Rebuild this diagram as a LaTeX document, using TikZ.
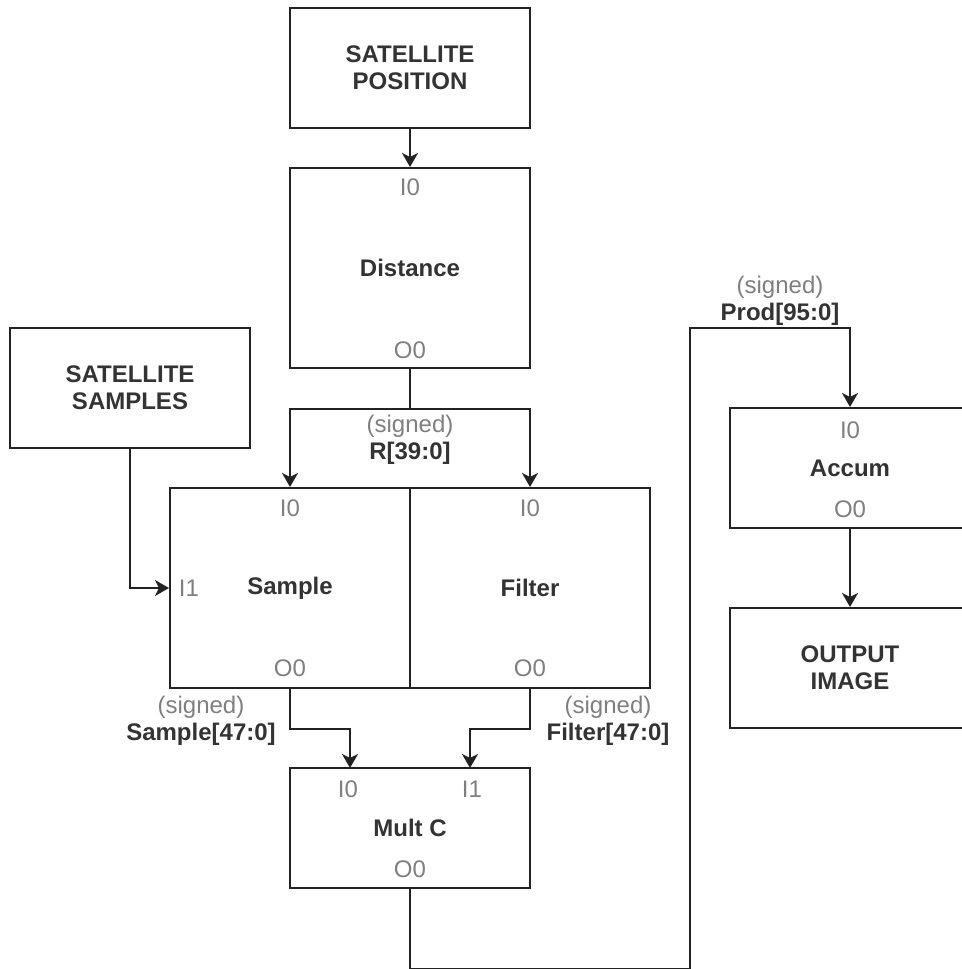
\documentclass[tikz,border=0pt]{standalone}
\usepackage{fontspec}
\setmainfont{Liberation Sans}
\usetikzlibrary{arrows.meta}
\definecolor{ink}{HTML}{333333}
\definecolor{edge}{HTML}{222222}
\definecolor{port}{HTML}{7F7F7F}
\begin{document}
\begin{tikzpicture}[x=0.5pt, y=-0.5pt, font=\fontsize{12}{13.5}\selectfont,
          blk/.style={draw=edge, line width=1pt, minimum width=120pt, inner sep=0pt, align=center, text=ink, font=\fontsize{12}{13.5}\selectfont\bfseries},
          tall/.style={blk, minimum height=100pt},
          flat/.style={blk, minimum height=60pt},
          pin/.style={text=port, inner sep=1pt},
          sig/.style={align=center, inner sep=1pt, text=ink},
          wire/.style={-{Stealth[length=7pt, width=8pt, inset=2pt]}, line width=1pt, draw=edge}]
        \useasboundingbox (0,0) rectangle (962,969);
        % blocks
        \node[flat] (satpos) at (410,68)  {SATELLITE\\POSITION};
        \node[tall] (dist)   at (410,268) {Distance};
        \node[flat] (satsmp) at (130,388) {SATELLITE\\SAMPLES};
        \node[tall] (sample) at (290,588) {Sample};
        \node[tall] (filter) at (530,588) {Filter};
        \node[flat] (multc)  at (410,828) {Mult C};
        \node[flat] (accum)  at (850,468) {Accum};
        \node[flat] (outimg) at (850,668) {OUTPUT\\IMAGE};
        % ports
        \node[pin] (dist-i0)   at (410,187) {I0};
        \node[pin] (dist-o0)   at (410,350) {O0};
        \node[pin] (sample-i0) at (290,508) {I0};
        \node[pin] (sample-i1) at (189,588) {I1};
        \node[pin] (sample-o0) at (290,668) {O0};
        \node[pin] (filter-i0) at (530,508) {I0};
        \node[pin] (filter-o0) at (530,668) {O0};
        \node[pin] (multc-i0)  at (348,789) {I0};
        \node[pin] (multc-i1)  at (472,789) {I1};
        \node[pin] (multc-o0)  at (410,869) {O0};
        \node[pin] (accum-i0)  at (850,430) {I0};
        \node[pin] (accum-o0)  at (850,509) {O0};
        % signal names
        \node[sig] (rsig) at (410,440) {\textcolor{port}{(signed)}\\\textbf{R[39:0]}};
        \node[sig] (ssig) at (201,721) {\textcolor{port}{(signed)}\\\textbf{Sample[47:0]}};
        \node[sig] (fsig) at (608,721) {\textcolor{port}{(signed)}\\\textbf{Filter[47:0]}};
        \node[sig] (psig) at (780,301) {\textcolor{port}{(signed)}\\\textbf{Prod[95:0]}};
        % wires
        \coordinate (mi0) at (350,768);
        \coordinate (mi1) at (470,768);
        \coordinate (loop) at (690,328);
        \draw[wire] (satpos) -- (dist);
        \draw[wire] (dist.south) -- ++(0,40) -| (sample.north);
        \draw[wire] (dist.south) -- ++(0,40) -| (filter.north);
        \draw[wire] (satsmp.south) |- (sample.west);
        \draw[wire] (sample.south) -- ++(0,40) -| (mi0);
        \draw[wire] (filter.south) -- ++(0,40) -| (mi1);
        \draw[wire] (multc.south) -- ++(0,80) -| (loop) -| (accum.north);
        \draw[wire] (accum) -- (outimg);
      \end{tikzpicture}
\end{document}
